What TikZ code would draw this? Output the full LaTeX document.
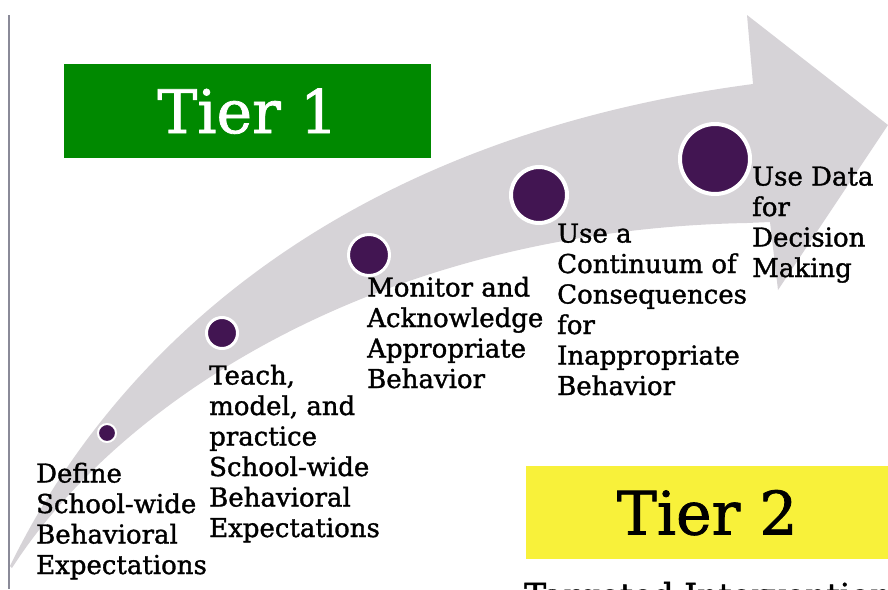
\documentclass[tikz,border=0pt]{standalone}
\usepackage{fontspec}
\setmainfont{DejaVu Serif}
\newfontfamily\slabfont[FakeBold=1.3]{DejaVu Serif}
\usepackage{tikz}
\usetikzlibrary{positioning}
\definecolor{tiergreen}{RGB}{0,137,0}
\definecolor{tieryellow}{RGB}{248,241,58}
\definecolor{bandgray}{RGB}{214,211,215}
\definecolor{dotpurple}{RGB}{66,21,82}
\definecolor{railgray}{RGB}{138,138,152}
\tikzset{
    stage dot/.style={circle, fill=dotpurple, draw=white, inner sep=0pt},
    % base west sits on the last line of a multi-line node
    stage text/.style={anchor=base west, align=left, inner sep=0pt, font=\slabfont\fontsize{26}{30.5}\selectfont},
    tier box/.style={rectangle, inner sep=0pt, anchor=north west, font=\slabfont\fontsize{60}{60}\selectfont},
    tier note/.style={anchor=base west, inner sep=0pt, font=\slabfont\fontsize{33}{33}\selectfont}
}

\begin{document}
\begin{tikzpicture}[x=1pt,y=-1pt]
	\useasboundingbox (0,0) rectangle (888,589);
	\clip (0,0) rectangle (888,589);
	% rail on the left
	\draw[railgray, line width=2.5pt] (9,15) -- (9,589);
	% the sweeping arrow
	\fill[bandgray] (10,566) .. controls (110,360) and (330,140) .. (753,84)
		-- (747,15) -- (888,125) -- (778,290) -- (770,222) -- (747,223)
		.. controls (380,230) and (120,400) .. (12,568) -- cycle;
	% tiers
	\node[tier box, fill=tiergreen, text=white, minimum width=367, minimum height=94] (tier1) at (64,64) {Tier 1};
	\node[tier box, fill=tieryellow, minimum width=362, minimum height=93] (tier2) at (526,466) {Tier 2};
	\node[tier note] (tier2note) at (524,607) {Targeted Intervention};
	% stages along the arrow
	\node[stage dot, line width=2pt, minimum size=18] (d1) at (107,433) {};
	\node[stage dot, line width=3pt, minimum size=31] (d2) at (222,333) {};
	\node[stage dot, line width=3pt, minimum size=41] (d3) at (369,255) {};
	\node[stage dot, line width=4pt, minimum size=56] (d4) at (539,195) {};
	\node[stage dot, line width=4pt, minimum size=70] (d5) at (715,159) {};
	\node[stage text] (s1) at (36,574) {Define\\School-wide\\Behavioral\\Expectations};
	\node[stage text] (s2) at (209,537) {Teach,\\model, and\\practice\\School-wide\\Behavioral\\Expectations};
	\node[stage text] (s3) at (367,388) {Monitor and\\Acknowledge\\Appropriate\\Behavior};
	\node[stage text] (s4) at (557,395) {Use a\\Continuum of\\Consequences\\for\\Inappropriate\\Behavior};
	\node[stage text] (s5) at (752,277) {Use Data\\for\\Decision\\Making};
\end{tikzpicture}
\end{document}
